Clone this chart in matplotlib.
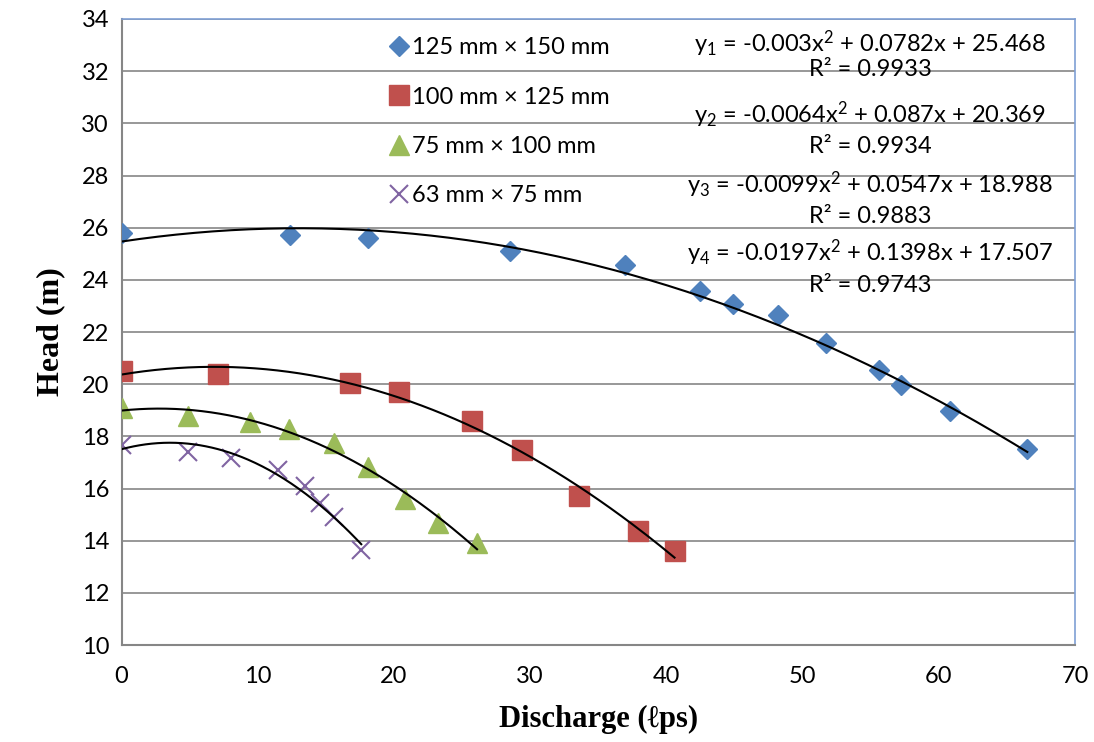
import numpy as np
import matplotlib.pyplot as plt

plt.rcParams['font.family'] = ['Lato', 'DejaVu Sans']
plt.rcParams['mathtext.fontset'] = 'custom'
plt.rcParams['mathtext.rm'] = 'Lato'
plt.rcParams['mathtext.it'] = 'Lato:italic'

#############################################################################
# Data
#############################################################################

labels = ['125 mm × 150 mm', '100 mm × 125 mm', '75 mm × 100 mm', '63 mm × 75 mm']

q1 = [0, 12.4, 18.1, 28.5, 37.0, 42.5, 44.9, 48.2, 51.7, 55.6, 57.2, 60.8, 66.5]
h1 = [25.8, 25.7, 25.6, 25.1, 24.55, 23.58, 23.08, 22.65, 21.57, 20.54, 19.97, 18.98, 17.5]

q2 = [0, 7.1, 16.8, 20.4, 25.7, 29.4, 33.6, 37.9, 40.6]
h2 = [20.51, 20.39, 20.03, 19.69, 18.58, 17.48, 15.73, 14.38, 13.62]

q3 = [0, 4.9, 9.4, 12.3, 15.6, 18.1, 20.8, 23.2, 26.1]
h3 = [19.1, 18.79, 18.56, 18.29, 17.75, 16.84, 15.59, 14.69, 13.9]

q4 = [0, 4.9, 8.0, 11.5, 13.5, 14.6, 15.6, 17.6]
h4 = [17.67, 17.41, 17.18, 16.71, 16.11, 15.43, 14.9, 13.64]

# trendline coefficients as printed on the chart (a, b, c)
coef1 = [-0.003, 0.0782, 25.468]
coef2 = [-0.0064, 0.087, 20.369]
coef3 = [-0.0099, 0.0547, 18.988]
coef4 = [-0.0197, 0.1398, 17.507]
r2 = ['0.9933', '0.9934', '0.9883', '0.9743']

equations = [
    r'y$_1$ = -0.003x$^2$ + 0.0782x + 25.468',
    r'y$_2$ = -0.0064x$^2$ + 0.087x + 20.369',
    r'y$_3$ = -0.0099x$^2$ + 0.0547x + 18.988',
    r'y$_4$ = -0.0197x$^2$ + 0.1398x + 17.507',
]

#############################################################################
# Graphing
#############################################################################

fig = plt.figure(figsize=(10.94, 7.42), dpi=100)
ax = fig.add_axes([0.1111, 0.1307, 0.8715, 0.8437])

series = [
    (q1, h1, coef1, dict(marker='D', color='#4F81BD', markersize=10)),
    (q2, h2, coef2, dict(marker='s', color='#C0504D', markersize=14.5)),
    (q3, h3, coef3, dict(marker='^', color='#9BBB59', markersize=14.5)),
    (q4, h4, coef4, dict(marker='x', color='#8064A2', markersize=13, markeredgewidth=1.5)),
]

for (q, h, coef, style), label in zip(series, labels):
    ax.plot(q, h, linestyle='none', label=label, zorder=3, **style)
    xs = np.linspace(min(q), max(q), 200)
    ax.plot(xs, np.polyval(coef, xs), color='black', lw=1.5, zorder=4)

ax.set_xlim(0, 70)
ax.set_ylim(10, 34)
ax.set_xticks(np.arange(0, 71, 10))
ax.set_yticks(np.arange(10, 35, 2))
ax.tick_params(length=0, labelsize=17, colors='black')
ax.tick_params(axis='x', pad=15)
ax.tick_params(axis='y', pad=9)
ax.yaxis.grid(True, color='#868686', lw=1.2)
ax.set_axisbelow(True)

for side in ['left', 'bottom']:
    ax.spines[side].set_color('#868686')
    ax.spines[side].set_linewidth(1.5)
for side in ['top', 'right']:
    ax.spines[side].set_color('#7F9FD4')
    ax.spines[side].set_linewidth(1.2)

ax.set_xlabel('Discharge (ℓps)', family=['Liberation Serif', 'DejaVu Serif'],
              fontweight='bold', fontsize=22, labelpad=13)
ax.set_ylabel('Head (m)', family=['Liberation Serif', 'DejaVu Serif'],
              fontweight='bold', fontsize=23, labelpad=12)

ax.legend(loc='upper left', bbox_to_anchor=(0.2665, 0.9935), frameon=False,
          fontsize=17, labelspacing=1.2, handlelength=0.8, handletextpad=0.15,
          borderaxespad=0.2)

eq_y = [0.960, 0.847, 0.735, 0.626]
r2_y = [0.920, 0.796, 0.685, 0.575]
for eq, r, ye, yr in zip(equations, r2, eq_y, r2_y):
    ax.text(0.785, ye, eq, transform=ax.transAxes, ha='center', va='center', fontsize=17)
    ax.text(0.785, yr, 'R² = ' + r, transform=ax.transAxes, ha='center', va='center', fontsize=17)

plt.savefig('out.png', dpi=100)
